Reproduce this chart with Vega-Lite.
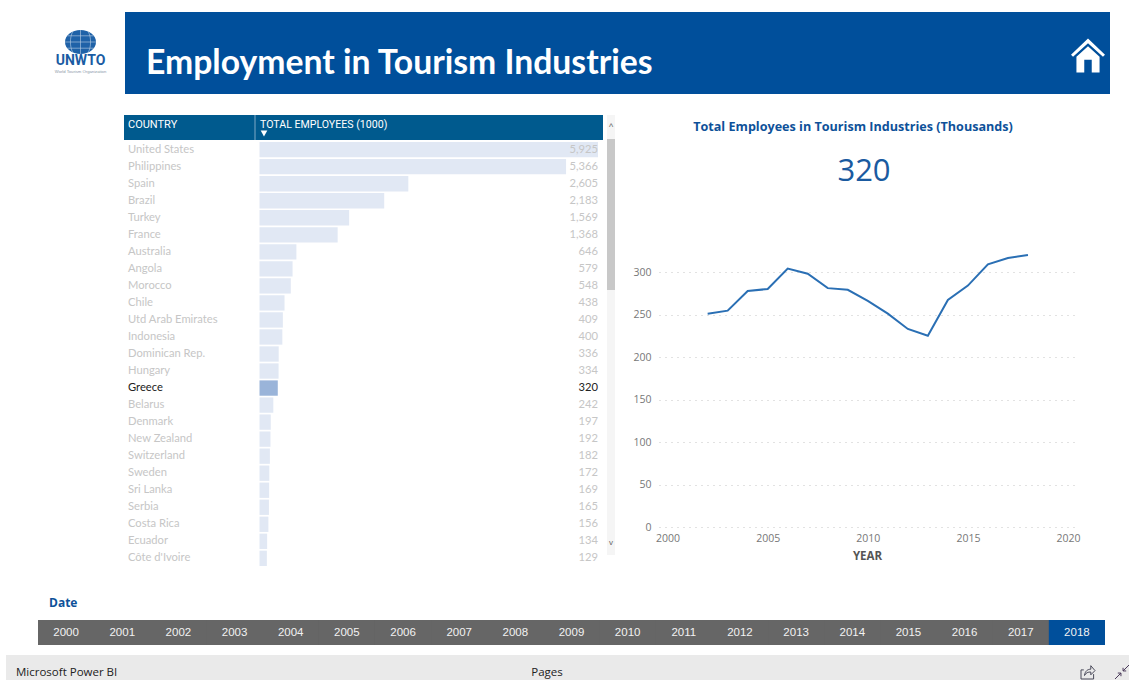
{"$schema":"https://vega.github.io/schema/vega-lite/v6.json","padding":{"left":0,"top":12,"right":0,"bottom":0},"background":"white","config":{"view":{"stroke":null},"concat":{"spacing":0},"font":"Open Sans"},"spacing":0,"vconcat":[
{"spacing":0,"hconcat":[
{"width":125,"height":82,"layer":[
{"data":{"values":[{"part":"globe"}]},"mark":{"type":"point","filled":true,"shape":"M-1,0A1,.77 0 1,1 1,0A1,.77 0 1,1 -1,0Z","size":961,"color":"#1f62a8","opacity":1,"xOffset":18,"yOffset":-11},"encoding":{}},
{"data":{"values":[{"part":"globe lines"}]},"mark":{"type":"point","filled":false,"shape":"M0,-.77V.77M-.5,-.67C-.7,-.3 -.7,.3 -.5,.67M.5,-.67C.7,-.3 .7,.3 .5,.67M-1,0H1M-.85,-.4H.85M-.85,.4H.85","size":961,"stroke":"#ffffff","strokeWidth":0.6,"opacity":0.7,"xOffset":18,"yOffset":-11},"encoding":{}},
{"data":{"values":[{"t":"UNWTO"}]},"mark":{"type":"text","font":"Roboto","fontWeight":"bold","fontSize":14,"color":"#1b5ca3","dx":18,"dy":8},"encoding":{"text":{"field":"t"}}},
{"data":{"values":[{"t":"World Tourism Organization"}]},"mark":{"type":"text","font":"Liberation Sans","fontSize":4.2,"color":"#8a97a8","dx":18,"dy":19},"encoding":{"text":{"field":"t"}}}
]},
{"width":985,"height":82,"view":{"fill":"#004f9b"},"layer":[
{"data":{"values":[{"t":"Employment in Tourism Industries"}]},"mark":{"type":"text","align":"left","font":"Lato","fontWeight":"bold","fontSize":33.7,"color":"white","dx":-471.5,"dy":11},"encoding":{"text":{"field":"t"}}},
{"data":{"values":[{"part":"home"}]},"mark":{"type":"point","filled":true,"opacity":1,"color":"white","size":1156,"shape":"M0,-1L1,-.05L.88,.07L0,-.72L-.88,.07L-1,-.05ZM0,-.55L.68,.07V1H.22V.25H-.22V1H-.68V.07Z","xOffset":470.5,"yOffset":2.5},"encoding":{}}
]}
]},
{"width":1,"height":20,"mark":{"type":"rect","opacity":0},"data":{"values":[{}]},"encoding":{}},
{"spacing":0,"hconcat":[
{"width":124,"height":1,"mark":{"type":"rect","opacity":0},"data":{"values":[{}]},"encoding":{}},
{"spacing":0,"vconcat":[
{"width":479,"height":25,"view":{"fill":"#005a8e"},"layer":[
{"data":{"values":[{"col":"COUNTRY"}]},"mark":{"type":"text","align":"left","font":"Roboto","fontSize":11,"color":"white","dx":-235.5,"dy":-3},"encoding":{"text":{"field":"col"}}},
{"data":{"values":[{"col":"TOTAL EMPLOYEES (1000)"}]},"mark":{"type":"text","align":"left","font":"Roboto","fontSize":10.6,"color":"white","dx":-103.5,"dy":-3},"encoding":{"text":{"field":"col"}}},
{"data":{"values":[{"col":"sort"}]},"mark":{"type":"point","shape":"triangle-down","filled":true,"opacity":1,"color":"white","size":45,"xOffset":-99.5,"yOffset":6},"encoding":{}},
{"data":{"values":[{"col":"separator"}]},"mark":{"type":"rule","color":"#7fa9c6","strokeWidth":1,"xOffset":-108.5},"encoding":{"y":{"datum":0,"type":"quantitative","scale":{"domain":[0,1]},"axis":null},"y2":{"datum":1}}}
]},
{"width":479,"height":424,"data":{"values":[
{"country":"United States","employees":5925},{"country":"Philippines","employees":5366},{"country":"Spain","employees":2605},{"country":"Brazil","employees":2183},{"country":"Turkey","employees":1569},{"country":"France","employees":1368},{"country":"Australia","employees":646},{"country":"Angola","employees":579},{"country":"Morocco","employees":548},{"country":"Chile","employees":438},{"country":"Utd Arab Emirates","employees":409},{"country":"Indonesia","employees":400},{"country":"Dominican Rep.","employees":336},{"country":"Hungary","employees":334},{"country":"Greece","employees":320},{"country":"Belarus","employees":242},{"country":"Denmark","employees":197},{"country":"New Zealand","employees":192},{"country":"Switzerland","employees":182},{"country":"Sweden","employees":172},{"country":"Sri Lanka","employees":169},{"country":"Serbia","employees":165},{"country":"Costa Rica","employees":156},{"country":"Ecuador","employees":134},{"country":"Côte d'Ivoire","employees":129}]},
"encoding":{"y":{"field":"country","type":"nominal","sort":null,"axis":null,"scale":{"paddingInner":0.1,"paddingOuter":0}}},
"layer":[
{"mark":{"type":"bar"},"encoding":{"x":{"field":"employees","type":"quantitative","axis":null,"scale":{"domain":[0,5925],"range":[135.5,474]}},"color":{"condition":{"test":"datum.country==='Greece'","value":"#9ab4d9"},"value":"#e1e8f4"}}},
{"mark":{"type":"text","align":"left","font":"Lato","fontSize":11.2,"dx":-131.5},"encoding":{"x":{"datum":0,"type":"quantitative","scale":{"domain":[0,5925],"range":[135.5,474]}},"text":{"field":"country"},"color":{"condition":{"test":"datum.country==='Greece'","value":"#222222"},"value":"#c6c6c6"}}},
{"mark":{"type":"text","align":"right","font":"Lato","fontSize":11.2},"encoding":{"x":{"datum":5925,"type":"quantitative","scale":{"domain":[0,5925],"range":[135.5,474]}},"text":{"field":"employees","format":","},"color":{"condition":{"test":"datum.country==='Greece'","value":"#222222"},"value":"#c6c6c6"}}}
]}
]},
{"width":4,"height":1,"mark":{"type":"rect","opacity":0},"data":{"values":[{}]},"encoding":{}},
{"spacing":0,"vconcat":[
{"width":8,"height":24,"view":{"fill":"#f5f5f5"},"data":{"values":[{"t":"^"}]},"mark":{"type":"text","font":"Liberation Sans","fontSize":9,"color":"#666666"},"encoding":{"text":{"field":"t"}}},
{"width":8,"height":151,"mark":{"type":"rect","color":"#c8c8c8"},"data":{"values":[{}]},"encoding":{}},
{"width":8,"height":265,"view":{"fill":"#f5f5f5"},"data":{"values":[{"t":"v"}]},"mark":{"type":"text","font":"Liberation Sans","fontSize":8,"color":"#666666","dy":120},"encoding":{"text":{"field":"t"}}}
]},
{"width":17,"height":1,"mark":{"type":"rect","opacity":0},"data":{"values":[{}]},"encoding":{}},
{"spacing":0,"vconcat":[
{"width":416,"height":136,"layer":[
{"data":{"values":[{"t":"Total Employees in Tourism Industries (Thousands)"}]},"mark":{"type":"text","font":"Open Sans","fontWeight":"bold","fontSize":12.6,"color":"#0e5199","dx":-14,"dy":-56},"encoding":{"text":{"field":"t"}}},
{"data":{"values":[{"v":320}]},"mark":{"type":"text","font":"Open Sans","fontSize":31,"color":"#1a5aa0","dx":-3,"dy":-11},"encoding":{"text":{"field":"v"}}}
]},
{"width":416,"height":272,"data":{"values":[{"year":2002,"v":251},{"year":2003,"v":254.5},{"year":2004,"v":277.6},{"year":2005,"v":280},{"year":2006,"v":304},{"year":2007,"v":298},{"year":2008,"v":281},{"year":2009,"v":279},{"year":2010,"v":266},{"year":2011,"v":251},{"year":2012,"v":233},{"year":2013,"v":225},{"year":2014,"v":267},{"year":2015,"v":284},{"year":2016,"v":309},{"year":2017,"v":316.5},{"year":2018,"v":320}]},
"mark":{"type":"line","color":"#2a6fb4","strokeWidth":2},
"encoding":{
"x":{"field":"year","type":"quantitative","scale":{"domain":[1999.57,2020.35],"nice":false,"zero":false},"axis":{"values":[2000,2005,2010,2015,2020],"format":"d","grid":false,"domain":false,"ticks":false,"labelColor":"#777777","labelFontSize":10.5,"labelFont":"Open Sans","labelPadding":6,"title":"YEAR","titleFont":"Open Sans","titleFontSize":11.5,"titleFontWeight":"bold","titleColor":"#555555","titlePadding":7}},
"y":{"field":"v","type":"quantitative","scale":{"domain":[0,320],"nice":false},"axis":{"values":[0,50,100,150,200,250,300],"grid":true,"gridDash":[1,5],"gridColor":"#c4c4c4","domain":false,"ticks":false,"labelColor":"#777777","labelFontSize":10.5,"labelFont":"Open Sans","labelPadding":8,"title":null}}
}}
]}
]},
{"width":1,"height":30,"mark":{"type":"rect","opacity":0},"data":{"values":[{}]},"encoding":{}},
{"spacing":0,"hconcat":[
{"width":38,"height":1,"mark":{"type":"rect","opacity":0},"data":{"values":[{}]},"encoding":{}},
{"width":1067,"height":25,"view":{"fill":"#666666"},"title":{"text":"Date","anchor":"start","dx":11,"offset":10,"font":"Open Sans","fontSize":12,"fontWeight":"bold","color":"#0e5199"},"data":{"values":[{"year":2000},{"year":2001},{"year":2002},{"year":2003},{"year":2004},{"year":2005},{"year":2006},{"year":2007},{"year":2008},{"year":2009},{"year":2010},{"year":2011},{"year":2012},{"year":2013},{"year":2014},{"year":2015},{"year":2016},{"year":2017},{"year":2018}]},
"encoding":{"x":{"field":"year","type":"ordinal","axis":null,"scale":{"paddingInner":0,"paddingOuter":0}}},
"layer":[
{"mark":{"type":"bar"},"encoding":{"color":{"condition":{"test":"datum.year===2018","value":"#004f9b"},"value":"#666666"}}},
{"mark":{"type":"text","font":"Liberation Sans","fontSize":11.5,"color":"#f2f2f2"},"encoding":{"text":{"field":"year","type":"ordinal"}}}
]}
]},
{"width":1,"height":10,"mark":{"type":"rect","opacity":0},"data":{"values":[{}]},"encoding":{}},
{"spacing":0,"hconcat":[
{"width":6,"height":1,"mark":{"type":"rect","opacity":0},"data":{"values":[{}]},"encoding":{}},
{"width":1123,"height":25,"view":{"fill":"#eaeaea"},"layer":[
{"data":{"values":[{"t":"Microsoft Power BI"}]},"mark":{"type":"text","align":"left","font":"Open Sans","fontSize":11.5,"color":"#222222","dx":-551.5,"dy":5},"encoding":{"text":{"field":"t"}}},
{"data":{"values":[{"t":"Pages"}]},"mark":{"type":"text","font":"Open Sans","fontSize":11.5,"color":"#222222","dx":-20.5,"dy":5},"encoding":{"text":{"field":"t"}}},
{"data":{"values":[{"part":"share"}]},"mark":{"type":"point","filled":false,"opacity":1,"stroke":"#4a4a5a","strokeWidth":1,"size":196,"shape":"M-.6,-.3H-1V1H.8V.3M-.5,.5C-.4,-.2 0,-.4 .4,-.4V-.9L1,-.2L.4,.4V0C0,0 -.3,.1 -.5,.5Z","xOffset":520.5,"yOffset":4.5},"encoding":{}},
{"data":{"values":[{"part":"fit"}]},"mark":{"type":"point","filled":false,"opacity":1,"stroke":"#4a3a5a","strokeWidth":1,"size":196,"shape":"M1,-1L.15,-.15M.15,-.6V-.15H.6M-1,1L-.15,.15M-.15,.6V.15H-.6","xOffset":554.5,"yOffset":4.5},"encoding":{}}
]}
]}
]}
